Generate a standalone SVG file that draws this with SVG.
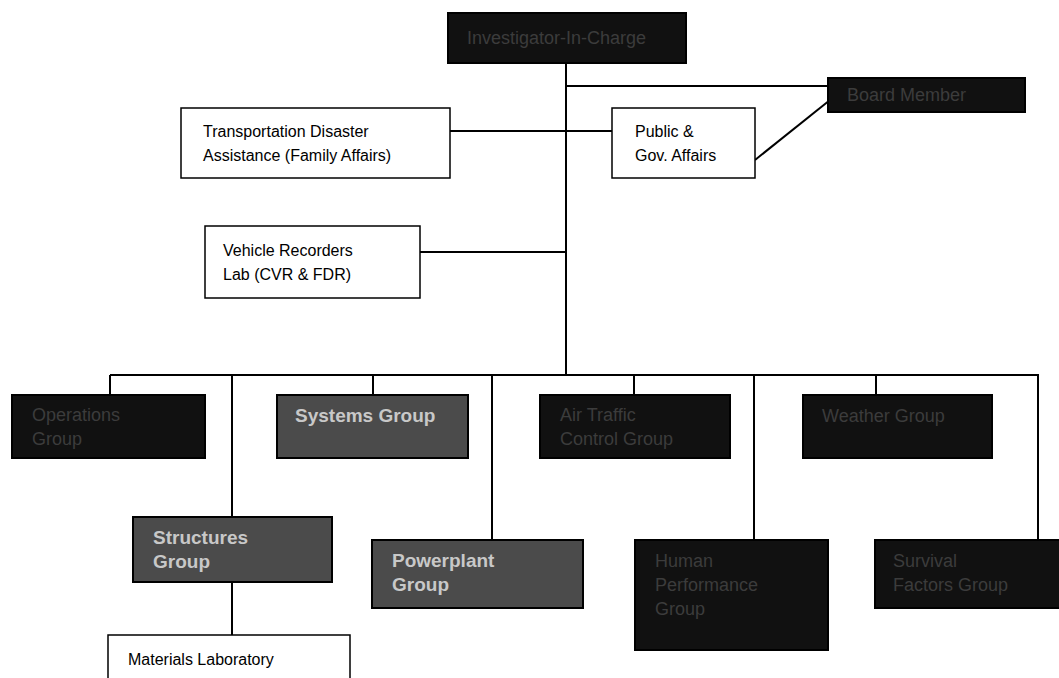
<svg xmlns="http://www.w3.org/2000/svg" width="1059" height="678" viewBox="0 0 1059 678">
<style>
.w{fill:#fff;stroke:#000;stroke-width:1.5}
.d{fill:#111;stroke:#000;stroke-width:2}
.g{fill:#4b4b4b;stroke:#000;stroke-width:2}
.t{font-family:"Liberation Sans",Arial,sans-serif;font-size:16px;fill:#000}
.td{font-family:"Liberation Sans",Arial,sans-serif;font-size:18px;fill:#3c3c3c}
.tg{font-family:"Liberation Sans",Arial,sans-serif;font-size:19px;fill:#c8c8c8;font-weight:bold}
.c{stroke:#000;stroke-width:2;fill:none}
</style>
<rect width="1059" height="678" fill="#fff"/>
<g id="connectors">
<path class="c" d="M566 63V375"/>
<path class="c" d="M566 86H830"/>
<path class="c" d="M450 131H612"/>
<path class="c" d="M755 160L830 100"/>
<path class="c" d="M420 252H566"/>
<path class="c" d="M110 375H1039"/>
<path class="c" d="M110 375V395M232 375V517M373 375V395M492 375V540M634 375V395M754 375V540M876 375V395M1038 375V540"/>
<path class="c" d="M232 582V635"/>
</g>
<g id="n-top"><rect class="d" x="448" y="13" width="238" height="50"/><text class="td" x="467" y="44">Investigator-In-Charge</text></g>
<g id="n-board"><rect class="d" x="828" y="78" width="197" height="34"/><text class="td" x="847" y="101">Board Member</text></g>
<g id="n-tda"><rect class="w" x="181" y="108" width="269" height="70"/><text class="t" x="203" y="137">Transportation Disaster</text><text class="t" x="203" y="161">Assistance (Family Affairs)</text></g>
<g id="n-pga"><rect class="w" x="612" y="108" width="143" height="70"/><text class="t" x="635" y="137">Public &amp;</text><text class="t" x="635" y="161">Gov. Affairs</text></g>
<g id="n-vrl"><rect class="w" x="205" y="226" width="215" height="72"/><text class="t" x="223" y="256">Vehicle Recorders</text><text class="t" x="223" y="280">Lab (CVR &amp; FDR)</text></g>
<g id="n-ops"><rect class="d" x="12" y="395" width="193" height="63"/><text class="td" x="32" y="421">Operations</text><text class="td" x="32" y="445">Group</text></g>
<g id="n-sys"><rect class="g" x="277" y="395" width="191" height="63"/><text class="tg" x="295" y="422">Systems Group</text></g>
<g id="n-atc"><rect class="d" x="540" y="395" width="190" height="63"/><text class="td" x="560" y="421">Air Traffic</text><text class="td" x="560" y="445">Control Group</text></g>
<g id="n-wx"><rect class="d" x="803" y="395" width="189" height="63"/><text class="td" x="822" y="422">Weather Group</text></g>
<g id="n-str"><rect class="g" x="133" y="517" width="199" height="65"/><text class="tg" x="153" y="544">Structures</text><text class="tg" x="153" y="568">Group</text></g>
<g id="n-pwr"><rect class="g" x="372" y="540" width="211" height="68"/><text class="tg" x="392" y="567">Powerplant</text><text class="tg" x="392" y="591">Group</text></g>
<g id="n-hp"><rect class="d" x="635" y="540" width="193" height="110"/><text class="td" x="655" y="567">Human</text><text class="td" x="655" y="591">Performance</text><text class="td" x="655" y="615">Group</text></g>
<g id="n-sf"><rect class="d" x="875" y="540" width="190" height="68"/><text class="td" x="893" y="567">Survival</text><text class="td" x="893" y="591">Factors Group</text></g>
<g id="n-mat"><rect class="w" x="108" y="635" width="242" height="50"/><text class="t" x="128" y="665">Materials Laboratory</text></g>
</svg>
